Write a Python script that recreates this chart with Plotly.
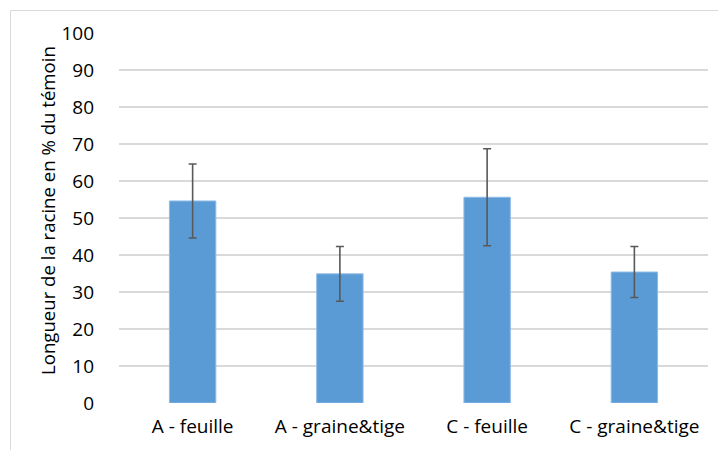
import plotly.graph_objects as go

categories = ["A - feuille", "A - graine&tige", "C - feuille", "C - graine&tige"]
values = [54.6, 34.9, 55.6, 35.4]
errors = [10.0, 7.4, 13.1, 6.9]
y_ticks = [0, 10, 20, 30, 40, 50, 60, 70, 80, 90, 100]

W, H = 718, 450
L, R, T, B = 119, 10, 33, 47
pw, ph = W - L - R, H - T - B

def px_x(x):
    return (x - L) / pw

def px_y(y):
    return (H - B - y) / ph

fig = go.Figure()
fig.add_trace(go.Bar(
    x=categories,
    y=values,
    width=0.315,
    marker=dict(color="#5B9BD5", line=dict(color="#8DBBE6", width=1)),
    error_y=dict(type="data", array=errors, visible=True,
                 color="#595959", thickness=1.6, width=4),
))

font = "Open Sans, Noto Sans, sans-serif"
fig.update_layout(
    width=W, height=H,
    margin=dict(l=L, r=R, t=T, b=B, autoexpand=False),
    paper_bgcolor="white", plot_bgcolor="white",
    showlegend=False,
    font=dict(family=font, size=19, color="#000000"),
    xaxis=dict(
        showgrid=False, showline=False, zeroline=False,
        tickfont=dict(size=19, color="#000000"),
        ticklabelstandoff=10,
    ),
    yaxis=dict(
        range=[0, 100], tickvals=y_ticks,
        showgrid=True, gridcolor="#d9d9d9", gridwidth=1.5,
        zeroline=False, showline=False,
        tickfont=dict(size=19, color="#000000"),
        ticklabelstandoff=24,
    ),
    annotations=[dict(
        text="Longueur de la racine en % du témoin",
        xref="paper", yref="paper",
        x=px_x(47), y=px_y(211),
        textangle=-90, showarrow=False,
        font=dict(family=font, size=18.6, color="#000000"),
        xanchor="center", yanchor="middle",
    )],
    shapes=[dict(
        type="rect", xref="paper", yref="paper",
        x0=px_x(10.5), x1=px_x(720), y0=px_y(455), y1=px_y(10.5),
        line=dict(color="#d9d9d9", width=1), fillcolor="rgba(0,0,0,0)",
        layer="below",
    )],
)

fig.write_html("out.html", config={"displayModeBar": False},
               post_script="document.body.style.margin='0';")
